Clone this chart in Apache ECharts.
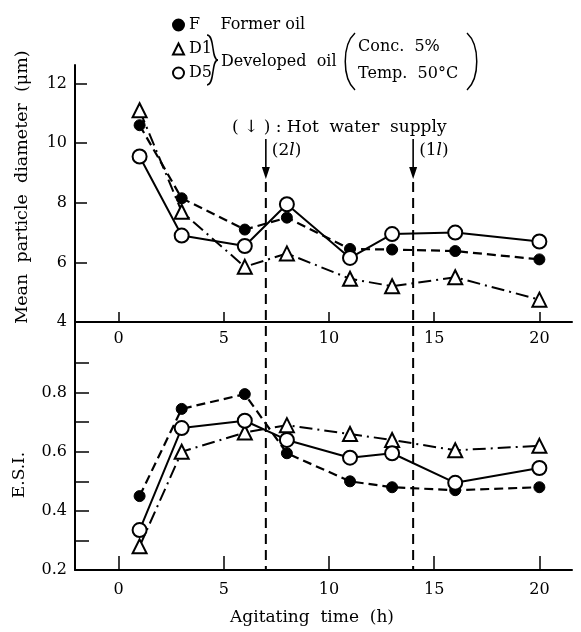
<!DOCTYPE html>
<html><head><meta charset="utf-8">
<script src="https://cdn.jsdelivr.net/npm/echarts@6/dist/echarts.min.js"></script>
<style>html,body{margin:0;padding:0;background:#fff}#c{width:581px;height:632px}</style>
</head><body><div id="c"></div>
<script>
// ---- data ----
const times = [1, 3, 6, 8, 11, 13, 16, 20];
const diamF  = [10.6, 8.15, 7.1, 7.5, 6.45, 6.43, 6.38, 6.1];
const diamD1 = [11.1, 7.7, 5.85, 6.3, 5.45, 5.2, 5.5, 4.75];
const diamD5 = [9.55, 6.9, 6.55, 7.95, 6.15, 6.95, 7.0, 6.7];
const esiF  = [0.45, 0.745, 0.795, 0.595, 0.5, 0.48, 0.47, 0.48];
const esiD1 = [0.28, 0.6, 0.665, 0.69, 0.66, 0.64, 0.605, 0.62];
const esiD5 = [0.335, 0.68, 0.705, 0.64, 0.58, 0.595, 0.495, 0.545];
const xTicks = [0, 5, 10, 15, 20];
const diamLabels = [4, 6, 8, 10, 12];
const diamTicks = [6, 8, 10, 12];
const esiLabels = [0.2, 0.4, 0.6, 0.8];
const esiTicks = [0.3, 0.4, 0.5, 0.6, 0.7, 0.8, 0.9];
const supplyTimes = [7, 14];
const supplyVolumes = ['2', '1'];

const FONT = '"DejaVu Serif", serif';
const X_MIN = -2.07, X_MAX = 21.55;

function xAxisCfg(gi, tickLen, margin) {
  return {
    type: 'value', gridIndex: gi, min: X_MIN, max: X_MAX, position: 'bottom',
    axisLine: { onZero: false, lineStyle: { color: '#000', width: 2 } },
    axisTick: { show: true, inside: true, length: tickLen, lineStyle: { color: '#000', width: 1.5 }, customValues: xTicks },
    axisLabel: { color: '#000', fontFamily: FONT, fontSize: 16, margin: margin, customValues: xTicks },
    splitLine: { show: false }
  };
}
function yAxisCfg(gi, min, max, ticks, labels, tickLen) {
  return {
    type: 'value', gridIndex: gi, min: min, max: max,
    axisLine: { onZero: false, lineStyle: { color: '#000', width: 2 } },
    axisTick: { show: true, inside: true, length: tickLen, lineStyle: { color: '#000', width: 1.5 }, customValues: ticks },
    axisLabel: { color: '#000', fontFamily: FONT, fontSize: 16, margin: 8, customValues: labels },
    splitLine: { show: false }
  };
}
const styles = {
  F:  { symbol: 'circle', symbolSize: 11, itemStyle: { color: '#000', borderColor: '#000', borderWidth: 1 }, lineStyle: { color: '#000', width: 2.2, type: [9, 5] } },
  D1: { symbol: 'triangle', symbolSize: 14, itemStyle: { color: '#fff', borderColor: '#000', borderWidth: 2 }, lineStyle: { color: '#000', width: 2, type: [13, 5, 2, 5] } },
  D5: { symbol: 'circle', symbolSize: 14, itemStyle: { color: '#fff', borderColor: '#000', borderWidth: 2 }, lineStyle: { color: '#000', width: 2, type: 'solid' } }
};
function mk(name, gi, vals) {
  return Object.assign({
    name: name, type: 'line', xAxisIndex: gi, yAxisIndex: gi,
    data: times.map((t, i) => [t, vals[i]]),
    showAllSymbol: true, animation: false, z: 3
  }, styles[name]);
}

const chart = echarts.init(document.getElementById('c'), null, { renderer: 'canvas' });
chart.setOption({
  backgroundColor: '#fff',
  animation: false,
  grid: [
    { left: 75, top: 65, width: 497, height: 257 },
    { left: 75, top: 322, width: 497, height: 248 }
  ],
  xAxis: [xAxisCfg(0, 10, 9), xAxisCfg(1, 14, 12)],
  yAxis: [
    yAxisCfg(0, 4, 12.62, diamTicks, diamLabels, 12),
    yAxisCfg(1, 0.2, 1.039, esiTicks, esiLabels, 14)
  ],
  legend: {
    orient: 'vertical', left: 167, top: 12, itemWidth: 11, itemHeight: 11, itemGap: 8,
    selectedMode: false,
    textStyle: { color: '#000', fontFamily: FONT, fontSize: 16 },
    formatter: n => n === 'F' ? 'F    Former oil' : n,
    data: [{ name: 'F', icon: 'circle' }, { name: 'D1', icon: 'triangle' }, { name: 'D5', icon: 'circle' }]
  },
  series: [
    mk('F', 0, diamF), mk('D1', 0, diamD1), mk('D5', 0, diamD5),
    mk('F', 1, esiF), mk('D1', 1, esiD1), mk('D5', 1, esiD5)
  ]
});

// annotations positioned through the axis scales
const yBottom = chart.convertToPixel({ yAxisIndex: 1 }, 0.2);
const g = [];
const txt = (x, y, text, extra) => ({
  type: 'text', x: x, y: y, z: 10,
  style: Object.assign({ text: text, fill: '#000', font: '16px ' + FONT, textAlign: 'left', textVerticalAlign: 'middle' }, extra || {})
});
const curve = (x1, y1, cx1, cy1, cx2, cy2, x2, y2) => ({
  type: 'bezierCurve', z: 10,
  shape: { x1: x1, y1: y1, x2: x2, y2: y2, cpx1: cx1, cpy1: cy1, cpx2: cx2, cpy2: cy2 },
  style: { stroke: '#000', fill: null, lineWidth: 1.5 }
});
supplyTimes.forEach((t, i) => {
  const x = chart.convertToPixel({ xAxisIndex: 1 }, t);
  g.push({ type: 'line', z: 1, shape: { x1: x, y1: 182, x2: x, y2: yBottom }, style: { stroke: '#000', lineWidth: 2, lineDash: [10, 6] } });
  g.push({ type: 'line', z: 1, shape: { x1: x, y1: 139, x2: x, y2: 170 }, style: { stroke: '#000', lineWidth: 1.6 } });
  g.push({ type: 'polygon', z: 1, shape: { points: [[x - 4, 167], [x + 4, 167], [x, 179]] }, style: { fill: '#000' } });
  g.push({ type: 'text', x: x + 6, y: 151, z: 10, style: { text: '(' + supplyVolumes[i] + '{i|l})', fill: '#000', font: '17px ' + FONT, textVerticalAlign: 'middle', rich: { i: { fontStyle: 'italic', fontFamily: FONT, fontSize: 17 } } } });
});
g.push(txt(232, 128, '( ↓ ) : Hot  water  supply', { font: '17px ' + FONT }));
// legend decorations: brace and parentheses
g.push(curve(207, 35, 215, 35, 211, 60, 218, 60));
g.push(curve(218, 60, 211, 60, 215, 85, 207, 85));
g.push(curve(355, 33, 342, 45, 342, 78, 355, 90));
g.push(curve(467, 33, 480, 45, 480, 78, 467, 90));
g.push(txt(221, 62, 'Developed  oil'));
g.push(txt(358, 47, 'Conc.  5%'));
g.push(txt(358, 74, 'Temp.  50°C'));
// axis titles
g.push(txt(312, 618, 'Agitating  time  (h)', { textAlign: 'center', font: '17px ' + FONT }));
g.push(Object.assign(txt(22, 187, 'Mean  particle  diameter  (μm)', { textAlign: 'center', font: '17.5px ' + FONT }), { rotation: Math.PI / 2 }));
g.push(Object.assign(txt(20, 475, 'E.S.I.', { textAlign: 'center', font: '17px ' + FONT }), { rotation: Math.PI / 2 }));
chart.setOption({ graphic: g });
</script></body></html>
